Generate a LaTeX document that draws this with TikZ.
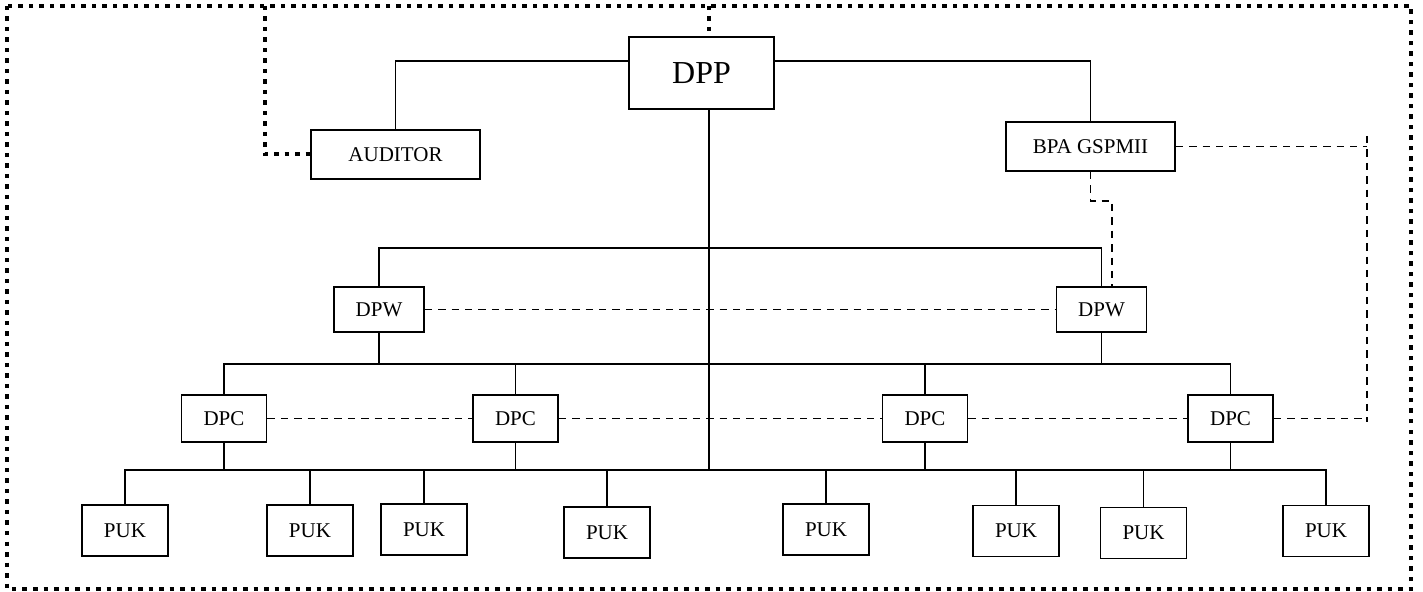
\documentclass[tikz,border=0pt]{standalone}
\usepackage{fontspec}
\setmainfont{Liberation Serif}
\tikzstyle{unit}=[draw, line width=0.85pt, inner sep=0, font=\fontsize{10.5}{12}\selectfont]
\tikzstyle{puk}=[unit, minimum width=43pt, minimum height=25.5pt]
\tikzstyle{dpc}=[unit, minimum width=42.5pt, minimum height=23.5pt]
\tikzstyle{dpw}=[unit, minimum width=45pt, minimum height=22.5pt]
\tikzstyle{wide}=[unit, minimum width=84.5pt, minimum height=24.5pt]
\tikzstyle{link}=[line width=0.75pt]
\tikzstyle{liaison}=[line width=0.8pt, dash pattern=on 3.7pt off 3pt]
\tikzstyle{frame}=[line width=2pt, dash pattern=on 2.25pt off 3pt]

\begin{document}
\begin{tikzpicture}[x=0.5pt, y=-0.5pt]

\useasboundingbox (0, 0) rectangle (1423, 592);

\node [unit, minimum width=72.5pt, minimum height=36pt,
       font=\fontsize{16}{19}\selectfont] (DPP) at (701.5, 73) {DPP};
\node [wide] (AUD) at (395.5, 154.5) {AUDITOR};
\node [wide] (BPA) at (1090.5, 146.5) {BPA GSPMII};

\node [dpw] (DPW1) at (379, 309.5) {DPW};
\node [dpw] (DPW2) at (1101.5, 309.5) {DPW};

\node [dpc] (DPC1) at (224, 418.5) {DPC};
\node [dpc] (DPC2) at (515.5, 418.5) {DPC};
\node [dpc] (DPC3) at (925, 418.5) {DPC};
\node [dpc] (DPC4) at (1230.5, 418.5) {DPC};

\node [puk] (PUK1) at (125, 530.5) {PUK};
\node [puk] (PUK2) at (310, 530.5) {PUK};
\node [puk] (PUK3) at (424, 529.5) {PUK};
\node [puk] (PUK4) at (607, 532.5) {PUK};
\node [puk] (PUK5) at (826, 529.5) {PUK};
\node [puk] (PUK6) at (1016, 531) {PUK};
\node [puk] (PUK7) at (1143.5, 533) {PUK};
\node [puk] (PUK8) at (1326, 531) {PUK};

\coordinate (trunk) at (709, 471);
\coordinate (bus2) at (0, 364);
\coordinate (top1) at (265, 6);
\coordinate (top2) at (709, 6);
\coordinate (rside) at (1367, 144);

% DPP to its staff
\draw [link] ([yshift=6pt]DPP.west) -| (AUD.north);
\draw [link] ([yshift=6pt]DPP.east) -| (BPA.north);
\draw [link] (trunk |- DPP.south) -- (trunk);

% DPW level
\draw [link] (DPW1.north) -- ++(0, -38) -| (DPW2.north);
\draw [link] (DPW1.south) -- (DPW1.south |- bus2);
\draw [link] (DPW2.south) -- (DPW2.south |- bus2);

% DPC level
\draw [link] (DPC1.north) -- (DPC1.north |- bus2) -| (DPC4.north);
\draw [link] (DPC2.north) -- (DPC2.north |- bus2);
\draw [link] (DPC3.north) -- (DPC3.north |- bus2);
\draw [link] (DPC1.south) -- (DPC1.south |- trunk);
\draw [link] (DPC2.south) -- (DPC2.south |- trunk);
\draw [link] (DPC3.south) -- (DPC3.south |- trunk);
\draw [link] (DPC4.south) -- (DPC4.south |- trunk);

% PUK level
\draw [link] (PUK1.north) -- ++(0, -34) -| (PUK8.north);
\draw [link] (PUK2.north) -- (PUK2.north |- trunk);
\draw [link] (PUK3.north) -- (PUK3.north |- trunk);
\draw [link] (PUK4.north) -- (PUK4.north |- trunk);
\draw [link] (PUK5.north) -- (PUK5.north |- trunk);
\draw [link] (PUK6.north) -- (PUK6.north |- trunk);
\draw [link] (PUK7.north) -- (PUK7.north |- trunk);

% coordination
\draw [liaison] (DPW1.east) -- (DPW2.west);
\draw [liaison] (DPC1.east) -- (DPC2.west);
\draw [liaison] (DPC2.east) -- (DPC3.west);
\draw [liaison] (DPC3.east) -- (DPC4.west);
\draw [liaison] (BPA.east) -- (BPA.east -| rside);
\draw [liaison] ([yshift=4pt]rside) -- ([yshift=-2pt]DPC4.east -| rside);
\draw [liaison] (DPC4.east) -- (DPC4.east -| rside);
\draw [liaison] (BPA.south) -- ++(0, 29) -| ([xshift=5.25pt]DPW2.north);

% outer frame
\draw [frame] (7, 6) rectangle (1411, 589);
\draw [frame] (top1) |- (AUD.west);
\draw [frame] (top2) -- (top2 |- DPP.north);

\end{tikzpicture}
\end{document}
